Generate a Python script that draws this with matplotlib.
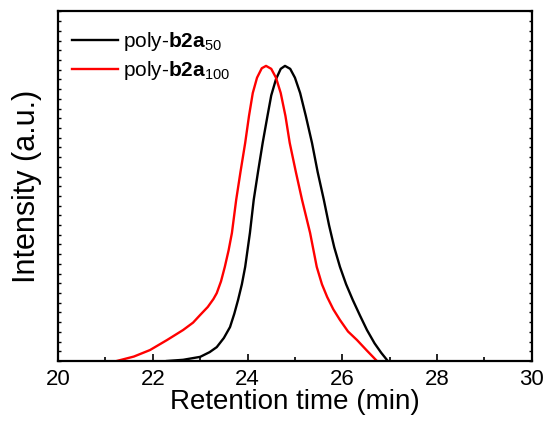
import matplotlib.pyplot as plt
from matplotlib.ticker import MultipleLocator, NullFormatter

plt.rcParams['font.family'] = ['Liberation Sans', 'DejaVu Sans']
plt.rcParams['mathtext.fontset'] = 'custom'
plt.rcParams['mathtext.rm'] = 'Liberation Sans'
plt.rcParams['mathtext.bf'] = 'Liberation Sans:bold'

# poly-b2a50 trace (retention time, normalised intensity)
t_50 = [22.30, 22.64, 23.00, 23.20, 23.35, 23.50, 23.63, 23.72, 23.80, 23.88, 23.95,
        24.05, 24.13, 24.22, 24.32, 24.42, 24.50, 24.60, 24.70, 24.79, 24.90, 25.00,
        25.11, 25.23, 25.36, 25.48, 25.61, 25.72, 25.83, 25.95, 26.08, 26.22, 26.37,
        26.52, 26.68, 26.82, 26.96]
i_50 = [0.000, 0.004, 0.014, 0.030, 0.047, 0.078, 0.115, 0.160, 0.207, 0.260, 0.319,
        0.434, 0.546, 0.640, 0.740, 0.830, 0.900, 0.955, 0.990, 1.000, 0.990, 0.960,
        0.908, 0.830, 0.739, 0.640, 0.546, 0.460, 0.385, 0.319, 0.260, 0.207, 0.155,
        0.105, 0.060, 0.028, 0.000]

# poly-b2a100 trace
t_100 = [21.24, 21.60, 21.94, 22.30, 22.64, 22.85, 23.00, 23.16, 23.28, 23.35, 23.44,
         23.52, 23.60, 23.67, 23.76, 23.85, 23.95, 24.03, 24.11, 24.20, 24.30, 24.39,
         24.50, 24.60, 24.70, 24.80, 24.89, 25.02, 25.15, 25.32, 25.46, 25.57, 25.68,
         25.81, 25.95, 26.12, 26.31, 26.52, 26.73]
i_100 = [0.000, 0.015, 0.037, 0.071, 0.105, 0.130, 0.156, 0.183, 0.210, 0.230, 0.270,
         0.319, 0.375, 0.434, 0.546, 0.640, 0.739, 0.830, 0.908, 0.960, 0.992, 1.000,
         0.990, 0.960, 0.908, 0.830, 0.739, 0.640, 0.546, 0.434, 0.319, 0.260, 0.217,
         0.175, 0.139, 0.100, 0.071, 0.035, 0.000]

labels = [r'poly-$\mathbf{b2a}_{\mathrm{50}}$', r'poly-$\mathbf{b2a}_{\mathrm{100}}$']

fig = plt.figure(figsize=(5.5, 4.23), dpi=100)
ax = fig.add_axes([0.1055, 0.1466, 0.8615, 0.8274])

ax.plot(t_50, i_50, color='black', lw=1.7, label=labels[0])
ax.plot(t_100, i_100, color='red', lw=1.7, label=labels[1])

ax.set_xlim(20, 30)
ax.set_ylim(0, 1.186)
ax.xaxis.set_major_locator(MultipleLocator(2))
ax.xaxis.set_minor_locator(MultipleLocator(1))
ax.yaxis.set_major_locator(MultipleLocator(0.0329))
ax.yaxis.set_major_formatter(NullFormatter())
ax.tick_params(axis='x', which='major', direction='in', length=5, width=1.2,
               labelsize=16, pad=6, top=False)
ax.tick_params(axis='x', which='minor', direction='in', length=3, width=1.2, top=False)
ax.tick_params(axis='y', direction='in', length=2, width=1.0, left=True, right=True)
for s in ax.spines.values():
    s.set_linewidth(1.6)

ax.set_xlabel('Retention time (min)', fontsize=20, labelpad=-1)
ax.set_ylabel('Intensity (a.u.)', fontsize=22)
ax.yaxis.set_label_coords(-0.034, 0.5)

ax.legend(loc='upper left', bbox_to_anchor=(0.0, 0.986), frameon=False, fontsize=15,
          handlelength=2.2, handletextpad=0.25, borderaxespad=0.3, borderpad=0.37,
          labelspacing=0.3)

fig.savefig('out.png', dpi=100)
